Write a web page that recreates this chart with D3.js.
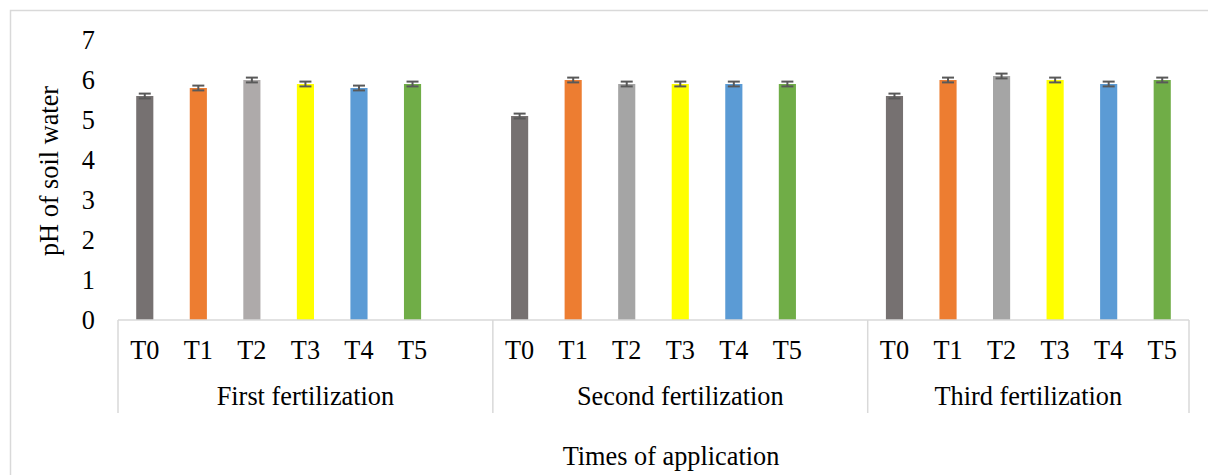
<!DOCTYPE html>
<meta charset="utf-8">
<script src="https://d3js.org/d3.v7.min.js"></script>
<style>
  body { margin: 0; background: #fff; }
  text { font-family: "Liberation Serif", "Times New Roman", serif; fill: #000; }
</style>
<div id="my_dataviz"></div>
<script>

// data
var groups = ["First fertilization", "Second fertilization", "Third fertilization"];
var treatments = ["T0", "T1", "T2", "T3", "T4", "T5"];
var slotsPerGroup = [7, 7, 6];   // Excel left an empty slot after groups 1 and 2

var firstValues  = [5.6, 5.8, 6.0, 5.9, 5.8, 5.9];
var secondValues = [5.1, 6.0, 5.9, 5.9, 5.9, 5.9];
var thirdValues  = [5.6, 6.0, 6.1, 6.0, 5.9, 6.0];

var firstErr  = [0.06, 0.06, 0.06, 0.06, 0.06, 0.06];
var secondErr = [0.06, 0.06, 0.06, 0.06, 0.06, 0.06];
var thirdErr  = [0.06, 0.06, 0.06, 0.06, 0.06, 0.06];

var yTicks = [0, 1, 2, 3, 4, 5, 6, 7];

var colorsFirst = ["#767171", "#ED7D31", "#AEAAAA", "#FFFF00", "#5B9BD5", "#70AD47"];
var colorsOther = ["#767171", "#ED7D31", "#A5A5A5", "#FFFF00", "#5B9BD5", "#70AD47"];

var values = [firstValues, secondValues, thirdValues];
var errs = [firstErr, secondErr, thirdErr];
var colors = [colorsFirst, colorsOther, colorsOther];

// build slot list
var slots = [], bars = [], groupSpans = [];
groups.forEach(function(g, gi) {
  var start = slots.length;
  for (var s = 0; s < slotsPerGroup[gi]; s++) {
    var id = gi + "-" + s;
    slots.push(id);
    if (s < treatments.length) {
      bars.push({id: id, group: gi, label: treatments[s], value: values[gi][s],
                 err: errs[gi][s], color: colors[gi][s]});
    }
  }
  groupSpans.push({name: g, first: slots[start], last: slots[slots.length - 1]});
});

var W = 1208, H = 475;
var plot = {left: 118, right: 1189, top: 40, bottom: 320};
var fontSize = "26.3px";
var gridColor = "#d9d9d9";

var svg = d3.select("#my_dataviz")
  .append("svg")
    .attr("width", W)
    .attr("height", H);

// outer chart border
svg.append("rect")
  .attr("x", 10.5).attr("y", 10.5)
  .attr("width", W).attr("height", H)
  .attr("fill", "none")
  .attr("stroke", gridColor)
  .attr("stroke-width", 1.5);

var x = d3.scaleBand()
  .domain(slots)
  .range([plot.left, plot.right])
  .paddingInner(0.68)
  .paddingOuter(0.34);

var y = d3.scaleLinear()
  .domain([0, 7])
  .range([plot.bottom, plot.top]);

// Y tick labels (no axis line in the original)
svg.selectAll(".ytick")
  .data(yTicks)
  .enter()
  .append("text")
    .attr("x", 95)
    .attr("y", function(d) { return y(d); })
    .attr("dy", "0.33em")
    .style("text-anchor", "end")
    .style("font-size", fontSize)
    .text(function(d) { return d; });

// Bars
svg.selectAll(".bar")
  .data(bars)
  .enter()
  .append("rect")
    .attr("x", function(d) { return x(d.id); })
    .attr("y", function(d) { return y(d.value); })
    .attr("width", x.bandwidth())
    .attr("height", function(d) { return y(0) - y(d.value); })
    .attr("fill", function(d) { return d.color; });

// Error bars
var eb = svg.selectAll(".err")
  .data(bars)
  .enter()
  .append("g")
    .attr("stroke", "#595959")
    .attr("stroke-width", 2);
eb.append("line")
  .attr("x1", function(d) { return x(d.id) + x.bandwidth() / 2; })
  .attr("x2", function(d) { return x(d.id) + x.bandwidth() / 2; })
  .attr("y1", function(d) { return y(d.value + d.err); })
  .attr("y2", function(d) { return y(d.value - d.err); });
[1, -1].forEach(function(sgn) {
  eb.append("line")
    .attr("x1", function(d) { return x(d.id) + x.bandwidth() / 2 - 6; })
    .attr("x2", function(d) { return x(d.id) + x.bandwidth() / 2 + 6; })
    .attr("y1", function(d) { return y(d.value + sgn * d.err); })
    .attr("y2", function(d) { return y(d.value + sgn * d.err); });
});

// category axis line
svg.append("line")
  .attr("x1", plot.left).attr("x2", plot.right)
  .attr("y1", y(0)).attr("y2", y(0))
  .attr("stroke", gridColor)
  .attr("stroke-width", 1.5);

// group separators
var sepX = [plot.left];
groupSpans.forEach(function(g) { sepX.push(x(g.last) + x.step() * (1 - 0.34) ); });
svg.selectAll(".sep")
  .data(sepX)
  .enter()
  .append("line")
    .attr("x1", function(d) { return d; })
    .attr("x2", function(d) { return d; })
    .attr("y1", y(0))
    .attr("y2", 413)
    .attr("stroke", gridColor)
    .attr("stroke-width", 1.5);

// treatment labels
svg.selectAll(".tlabel")
  .data(bars)
  .enter()
  .append("text")
    .attr("x", function(d) { return x(d.id) + x.bandwidth() / 2; })
    .attr("y", 359)
    .style("text-anchor", "middle")
    .style("font-size", fontSize)
    .text(function(d) { return d.label; });

// group labels
svg.selectAll(".glabel")
  .data(groupSpans)
  .enter()
  .append("text")
    .attr("x", function(d, i) { return (sepX[i] + sepX[i + 1]) / 2; })
    .attr("y", 405)
    .style("text-anchor", "middle")
    .style("font-size", fontSize)
    .text(function(d) { return d.name; });

// Y axis label
svg.append("text")
  .attr("transform", "translate(58,171) rotate(-90)")
  .style("text-anchor", "middle")
  .style("font-size", fontSize)
  .text("pH of soil water");

// X axis label
svg.append("text")
  .attr("x", 671)
  .attr("y", 465)
  .style("text-anchor", "middle")
  .style("font-size", fontSize)
  .text("Times of application");

</script>
